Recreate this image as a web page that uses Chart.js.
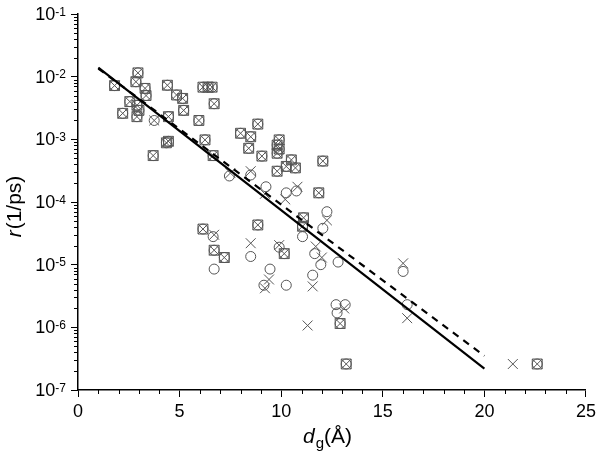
<!DOCTYPE html>
<html>
<head>
<meta charset="utf-8">
<script src="https://cdn.jsdelivr.net/npm/chart.js@4.4.1/dist/chart.umd.min.js"></script>
<style>
  html, body { margin: 0; padding: 0; background: #fff; }
  #wrap { width: 600px; height: 456px; }
</style>
</head>
<body>
<div id="wrap"><canvas id="rateChart" width="600" height="456"></canvas></div>
<script>
// points marked by square + circle + cross on top of each other
const sharedPts = [
    [1.8, 7.2e-3], [2.95, 1.15e-2], [2.85, 8.3e-3], [3.3, 6.5e-3], [3.35, 5.0e-3],
    [2.55, 4.0e-3], [2.9, 3.5e-3], [3.0, 2.9e-3], [2.2, 2.6e-3], [2.9, 2.3e-3],
    [4.4, 7.3e-3], [4.85, 5.1e-3], [5.15, 4.5e-3], [5.2, 2.9e-3], [6.15, 6.8e-3],
    [6.4, 6.8e-3], [6.6, 6.8e-3], [6.7, 3.7e-3], [4.45, 2.3e-3],
    [5.95, 2.0e-3], [4.35, 8.8e-4], [4.45, 9.3e-4], [6.25, 9.8e-4], [3.7, 5.5e-4],
    [6.65, 5.5e-4], [8.0, 1.25e-3], [8.85, 1.75e-3], [8.5, 1.1e-3], [8.4, 7.2e-4],
    [9.05, 5.4e-4], [9.9, 9.8e-4], [9.8, 8.1e-4], [9.9, 7.0e-4], [9.8, 6.0e-4],
    [10.5, 4.7e-4], [10.25, 3.7e-4], [9.8, 3.1e-4], [10.7, 3.5e-4], [12.05, 4.5e-4],
    [11.85, 1.4e-4], [11.1, 5.6e-5], [11.05, 4.1e-5], [8.85, 4.3e-5], [6.15, 3.7e-5],
    [6.7, 1.7e-5], [7.2, 1.3e-5], [10.15, 1.5e-5], [12.9, 1.15e-6], [13.2, 2.6e-7],
    [22.6, 2.6e-7]
];
// circles without square
const circleOnly = [
    [3.75, 2.0e-3],
    [7.45, 2.6e-4], [8.5, 2.7e-4], [9.25, 1.75e-4], [10.25, 1.4e-4], [10.75, 1.5e-4],
    [12.25, 7.0e-5], [12.05, 3.8e-5], [11.05, 2.8e-5], [6.65, 2.8e-5], [6.7, 8.5e-6],
    [8.5, 1.35e-5], [9.9, 1.9e-5], [9.45, 8.5e-6], [9.15, 4.7e-6], [10.25, 4.7e-6],
    [11.55, 6.8e-6], [11.65, 1.5e-5], [11.95, 1.0e-5], [12.8, 1.1e-5], [12.7, 2.3e-6],
    [13.15, 2.3e-6], [12.75, 1.7e-6], [16.0, 7.8e-6], [16.2, 2.3e-6]
];
// crosses without square
const crossOnly = [
    [3.75, 2.0e-3],
    [7.5, 2.9e-4], [8.5, 3.1e-4], [9.2, 1.35e-4], [10.2, 1.1e-4], [10.8, 1.75e-4],
    [12.25, 5.1e-5], [6.7, 3.0e-5], [8.5, 2.2e-5], [9.9, 2.05e-5], [9.4, 5.8e-6],
    [9.2, 4.2e-6], [11.55, 4.5e-6], [11.7, 1.95e-5], [12.0, 1.3e-5], [11.3, 1.07e-6],
    [13.1, 2.0e-6], [16.0, 1.05e-5], [16.2, 1.4e-6], [21.4, 2.6e-7]
];
// exponential fits (straight on the log axis)
const fitSolid = [[1, 1.4e-2], [20, 2.2e-7]];
const fitDashed = [[1, 1.35e-2], [20, 3.5e-7]];

const xTicks = [0, 5, 10, 15, 20, 25];
const yTicks = [1e-7, 1e-6, 1e-5, 1e-4, 1e-3, 1e-2, 1e-1];

const FONT = '"Liberation Sans", Arial, sans-serif';
const toXY = pts => pts.map(p => ({ x: p[0], y: p[1] }));

// minor ticks, superscript y labels and the two axis titles
const decorations = {
    id: 'decorations',
    afterDraw(chart) {
        const { ctx, chartArea, scales: { x, y } } = chart;
        ctx.save();
        ctx.strokeStyle = '#000';
        ctx.lineWidth = 1;
        ctx.beginPath();
        for (let v = 0; v <= 25; v++) {
            if (v % 5 === 0) continue;
            const px = Math.round(x.getPixelForValue(v)) + 0.5;
            ctx.moveTo(px, chartArea.bottom);
            ctx.lineTo(px, chartArea.bottom + 4);
        }
        for (let e = -7; e < -1; e++) {
            for (let m = 2; m <= 9; m++) {
                const py = Math.round(y.getPixelForValue(m * Math.pow(10, e))) + 0.5;
                ctx.moveTo(chartArea.left, py);
                ctx.lineTo(chartArea.left - 4, py);
            }
        }
        ctx.stroke();

        // y tick labels: 10 with a raised exponent
        ctx.fillStyle = '#000';
        yTicks.forEach(v => {
            const py = y.getPixelForValue(v);
            const exp = String(Math.round(Math.log10(v)));
            ctx.font = '12px ' + FONT;
            const ew = ctx.measureText(exp).width;
            ctx.textAlign = 'left';
            ctx.textBaseline = 'alphabetic';
            const right = chartArea.left - 12;
            ctx.fillText(exp, right - ew, py + 1.5);
            ctx.font = '18px ' + FONT;
            ctx.textAlign = 'right';
            ctx.textBaseline = 'middle';
            ctx.fillText('10', right - ew, py + 1);
        });

        // y title: r(1/ps), italic r
        ctx.save();
        ctx.translate(21, (chartArea.top + chartArea.bottom) / 2 + 5);
        ctx.rotate(-Math.PI / 2);
        ctx.textBaseline = 'alphabetic';
        ctx.textAlign = 'left';
        ctx.font = 'italic 21px ' + FONT;
        const rw = ctx.measureText('r').width;
        ctx.font = '21px ' + FONT;
        const restW = ctx.measureText('(1/ps)').width;
        let sx = -(rw + restW) / 2;
        ctx.font = 'italic 21px ' + FONT;
        ctx.fillText('r', sx, 0);
        ctx.font = '21px ' + FONT;
        ctx.fillText('(1/ps)', sx + rw + 1, 0);
        ctx.restore();

        // x title: d_g(Å), italic d with subscript g
        ctx.textBaseline = 'alphabetic';
        ctx.textAlign = 'left';
        ctx.font = 'italic 21px ' + FONT;
        const dw = ctx.measureText('d').width;
        ctx.font = '15px ' + FONT;
        const gw = ctx.measureText('g').width;
        ctx.font = '21px ' + FONT;
        const aw = ctx.measureText('(Å)').width;
        let tx = 327 - (dw + gw + aw) / 2;
        const base = 443;
        ctx.font = 'italic 21px ' + FONT;
        ctx.fillText('d', tx, base);
        ctx.font = '15px ' + FONT;
        ctx.fillText('g', tx + dw + 1, base + 5);
        ctx.font = '21px ' + FONT;
        ctx.fillText('(Å)', tx + dw + gw + 1, base);
        ctx.restore();
    }
};

const markerColor = '#555';

new Chart(document.getElementById('rateChart').getContext('2d'), {
    type: 'scatter',
    data: {
        datasets: [
            {
                type: 'line',
                data: toXY(fitSolid),
                borderColor: '#000',
                borderWidth: 2.2,
                pointRadius: 0,
                fill: false
            },
            {
                type: 'line',
                data: toXY(fitDashed),
                borderColor: '#000',
                borderWidth: 2.2,
                borderDash: [7, 6],
                pointRadius: 0,
                fill: false
            },
            {
                data: toXY(sharedPts.concat(crossOnly)),
                pointStyle: 'crossRot',
                pointRadius: 7,
                borderColor: markerColor,
                borderWidth: 1,
                backgroundColor: 'transparent'
            },
            {
                data: toXY(sharedPts),
                pointStyle: 'rect',
                pointRadius: 7,
                borderColor: markerColor,
                borderWidth: 1,
                backgroundColor: 'transparent'
            },
            {
                data: toXY(sharedPts.concat(circleOnly)),
                pointStyle: 'circle',
                pointRadius: 5,
                borderColor: markerColor,
                borderWidth: 1,
                backgroundColor: 'transparent'
            }
        ]
    },
    options: {
        responsive: false,
        animation: false,
        layout: { padding: { top: 14, right: 10, left: 0, bottom: 0 } },
        plugins: {
            legend: { display: false },
            tooltip: { enabled: false }
        },
        scales: {
            x: {
                type: 'linear',
                min: 0,
                max: 25,
                afterBuildTicks: scale => { scale.ticks = xTicks.map(v => ({ value: v })); },
                afterFit: scale => { scale.height = 66; },
                ticks: { color: '#000', font: { family: FONT, size: 18 }, padding: 4 },
                grid: { display: true, drawOnChartArea: false, tickLength: 7, color: '#000', tickColor: '#000' },
                border: { display: true, color: '#000', width: 1.5 }
            },
            y: {
                type: 'logarithmic',
                min: 1e-7,
                max: 1e-1,
                afterBuildTicks: scale => { scale.ticks = yTicks.map(v => ({ value: v })); },
                afterFit: scale => { scale.width = 78; },
                ticks: { display: false },
                grid: { display: true, drawOnChartArea: false, tickLength: 7, color: '#000', tickColor: '#000' },
                border: { display: true, color: '#000', width: 1.5 }
            }
        }
    },
    plugins: [decorations]
});
</script>
</body>
</html>
